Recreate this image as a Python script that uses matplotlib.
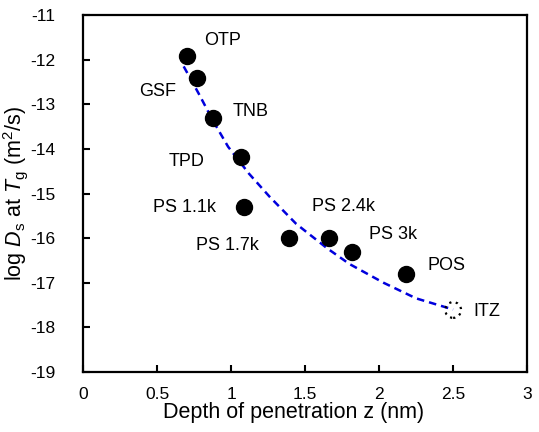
import matplotlib
matplotlib.use("Agg")
import matplotlib.pyplot as plt

plt.rcParams['font.family'] = ['Liberation Sans', 'DejaVu Sans']
plt.rcParams['mathtext.fontset'] = 'custom'
plt.rcParams['mathtext.rm'] = 'Liberation Sans'
plt.rcParams['mathtext.it'] = 'Liberation Sans:italic'
plt.rcParams['axes.unicode_minus'] = False

# liquids: depth of penetration z (nm) and log Ds at Tg
names = ['OTP', 'GSF', 'TNB', 'TPD', 'PS 1.1k', 'PS 1.7k', 'PS 2.4k', 'PS 3k', 'POS']
depth = [0.70, 0.77, 0.88, 1.07, 1.09, 1.39, 1.66, 1.82, 2.18]
log_ds = [-11.92, -12.41, -13.31, -14.18, -15.30, -16.00, -16.00, -16.31, -16.81]

# ITZ point (open, dotted)
itz_depth = [2.50]
itz_log_ds = [-17.61]

# dashed guide curve
curve_x = [0.68, 0.78, 0.88, 0.98, 1.12, 1.26, 1.44, 1.65, 1.80, 2.03, 2.25, 2.42, 2.50]
curve_y = [-12.15, -12.75, -13.38, -13.95, -14.55, -15.07, -15.68, -16.23, -16.58,
           -17.00, -17.35, -17.52, -17.60]

# label placement (x, y, alignment)
label_pos = {
    'OTP': (0.82, -11.56, 'left'),
    'GSF': (0.38, -12.72, 'left'),
    'TNB': (1.01, -13.17, 'left'),
    'TPD': (0.82, -14.29, 'right'),
    'PS 1.1k': (0.90, -15.32, 'right'),
    'PS 1.7k': (1.185, -16.17, 'right'),
    'PS 2.4k': (1.55, -15.30, 'left'),
    'PS 3k': (1.935, -15.91, 'left'),
    'POS': (2.33, -16.61, 'left'),
}

fig = plt.figure(figsize=(5.39, 4.32), dpi=100)
ax = fig.add_axes([0.154, 0.139, 0.824, 0.826])

ax.plot(curve_x, curve_y, color='#0000dd', lw=1.8, dashes=(3, 2), zorder=2)
ax.plot(depth, log_ds, 'o', color='black', ms=11.5, zorder=3)
ax.scatter(itz_depth, itz_log_ds, s=130, facecolors='none', edgecolors='black',
           linestyles=(0, (1, 2)), linewidths=1.6, zorder=3)

for name in names:
    x, y, ha = label_pos[name]
    ax.text(x, y, name, ha=ha, va='center', fontsize=13)
ax.text(2.64, -17.65, 'ITZ', ha='left', va='center', fontsize=13)

ax.set_xlim(0, 3)
ax.set_ylim(-19, -11)
ax.set_xticks([0, 0.5, 1, 1.5, 2, 2.5, 3])
ax.set_xticklabels(['0', '0.5', '1', '1.5', '2', '2.5', '3'])
ax.set_yticks(range(-19, -10))
ax.tick_params(direction='in', length=5, width=1.5, labelsize=12.5)
ax.tick_params(axis='y', pad=20)
ax.tick_params(axis='x', pad=11)

for side in ['top', 'right', 'bottom', 'left']:
    ax.spines[side].set_linewidth(1.6)

ax.set_xlabel('Depth of penetration z (nm)', fontsize=15.5)
ax.xaxis.set_label_coords(0.475, -0.085)
ax.set_ylabel(r'log $\mathit{D}_\mathrm{s}$ at $\mathit{T}_\mathrm{g}$ (m$^2$/s)', fontsize=15.5)
ax.yaxis.set_label_coords(-0.119, 0.5)

fig.savefig('out.png', dpi=100)
